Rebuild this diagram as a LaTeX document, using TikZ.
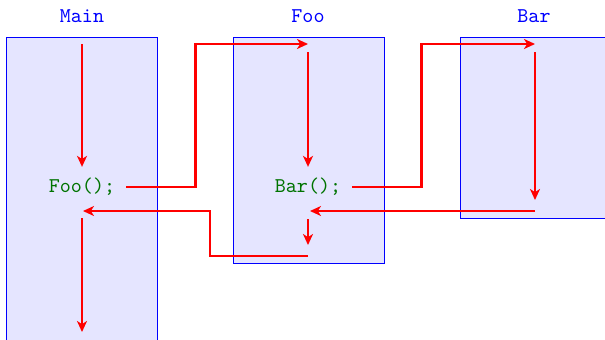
\documentclass[tikz,border=0pt]{standalone}
\usepackage{tikz}
\usetikzlibrary{arrows.meta}

\tikzset{
  frame/.style={draw=blue, fill=blue!10, line width=0.5pt},
  lbl/.style={text=blue, font=\fontsize{10.5}{12}\ttfamily},
  code/.style={text=green!45!black, font=\fontsize{10.5}{12}\ttfamily, inner sep=5.5pt},
  flow/.style={draw=red, line width=1.1pt, -{Stealth[length=5.5pt,width=5pt,inset=1.6pt]}}
}

\begin{document}
\begin{tikzpicture}[x=0.5pt, y=-0.5pt]
  \useasboundingbox (0,0) rectangle (605,339);
  % frames
  \draw[frame] (6,37) rectangle (157,345);
  \draw[frame] (233,37) rectangle (384,263);
  \draw[frame] (460,37) rectangle (615,218);
  % headings
  \node[lbl] (mainlbl) at (82,16) {Main};
  \node[lbl] (foolbl) at (308,16) {Foo};
  \node[lbl] (barlbl) at (534,16) {Bar};
  % calls
  \node[code] (foocall) at (82,187) {Foo();};
  \node[code] (barcall) at (308,187) {Bar();};
  % flow points
  \coordinate (mainstart) at (82,44);
  \coordinate (fooin) at (308,44);
  \coordinate (foostart) at (308,52);
  \coordinate (barin) at (535,44);
  \coordinate (barstart) at (535,52);
  \coordinate (barend) at (535,200);
  \coordinate (barret) at (535,211);
  \coordinate (fooret) at (310,211);
  \coordinate (foodown) at (308,219);
  \coordinate (fooend) at (308,245);
  \coordinate (fooback) at (308,256);
  \coordinate (mainret) at (83,211);
  \coordinate (maindown) at (82,218);
  \coordinate (mainend) at (82,332);
  % Main
  \draw[flow] (mainstart) -- (foocall.north);
  \draw[flow] (foocall.east) -- ++(69,0) |- (fooin);
  % Foo
  \draw[flow] (foostart) -- (barcall.north);
  \draw[flow] (barcall.east) -- ++(69,0) |- (barin);
  % Bar
  \draw[flow] (barstart) -- (barend);
  \draw[flow] (barret) -- (fooret);
  % back in Foo
  \draw[flow] (foodown) -- (fooend);
  \draw[flow] (fooback) -- ++(-98,0) |- (mainret);
  % back in Main
  \draw[flow] (maindown) -- (mainend);
\end{tikzpicture}
\end{document}
